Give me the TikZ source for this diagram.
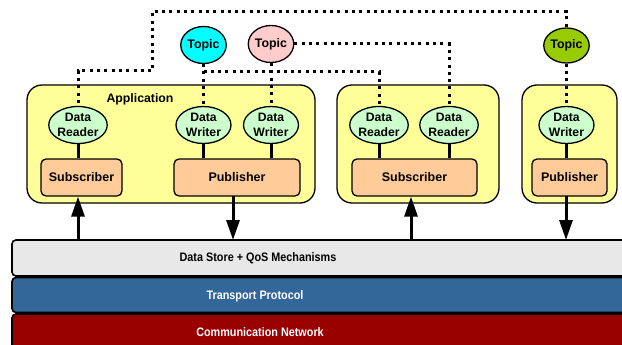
\documentclass[tikz,border=0pt]{standalone}
\usepackage{fontspec}
\setmainfont{Liberation Sans}
\newfontfamily\narrowsans[FakeStretch=0.88]{Liberation Sans}
\usetikzlibrary{shapes.geometric,arrows.meta}

\definecolor{appfill}{HTML}{FFFF99}
\definecolor{boxfill}{HTML}{FFCC99}
\definecolor{entfill}{HTML}{CCFFCC}
\definecolor{topiccyan}{HTML}{00FFFF}
\definecolor{topicpink}{HTML}{FFCCCC}
\definecolor{topicgreen}{HTML}{99CC00}
\definecolor{storefill}{HTML}{E8E8E8}
\definecolor{transfill}{HTML}{336699}
\definecolor{netfill}{HTML}{990000}

\tikzset{
  appbox/.style={draw=black, line width=1.3pt, fill=appfill, rounded corners=15pt},
  rolebox/.style={draw=black, line width=1.3pt, fill=boxfill, rounded corners=5pt,
    minimum height=37pt, inner sep=0pt, font=\fontsize{12.5}{14}\selectfont\bfseries},
  entity/.style={ellipse, draw=black, line width=1.3pt, fill=entfill,
    minimum width=55pt, minimum height=37pt, inner sep=0pt, align=center,
    font=\fontsize{12.2}{14.5}\selectfont\bfseries},
  topicnode/.style={ellipse, draw=black, line width=1.3pt,
    minimum width=44pt, minimum height=37pt, inner sep=0pt,
    font=\fontsize{12.4}{14}\selectfont\bfseries},
  layer/.style={draw=black, line width=1.6pt, rounded corners=4pt},
  layertext/.style={font=\narrowsans\fontsize{12.3}{14}\selectfont\bfseries},
  dotline/.style={line width=3pt, dash pattern=on 3pt off 4.3pt},
  link/.style={line width=3pt},
  flow/.style={line width=3pt, -{Triangle[length=20pt,width=13pt]}}
}

\begin{document}
\begin{tikzpicture}[x=1pt,y=-1pt]
\useasboundingbox (0,0) rectangle (622,345);
\clip (0,0) rectangle (622,345);

% protocol layers
\draw[layer, fill=storefill] (12,240) rectangle (640,276);
\draw[layer, fill=transfill] (12,277.5) rectangle (640,312.5);
\draw[layer, fill=netfill] (12,314) rectangle (640,360);
\coordinate (storetop) at (12,240);
\node[layertext] (store) at (258,258) {Data Store + QoS Mechanisms};
\node[layertext, text=white] (trans) at (255,296) {Transport Protocol};
\node[layertext, text=white] (net) at (260,332) {Communication Network};

% applications
\draw[appbox] (27,85) rectangle (315,203);
\draw[appbox] (337,85) rectangle (499,203);
\draw[appbox] (522,85) rectangle (617,203);
\node[font=\fontsize{12.3}{14}\selectfont\bfseries] (app) at (140,99) {Application};

% subscribers and publishers
\node[rolebox, minimum width=81pt] (S1) at (81.5,177.5) {Subscriber};
\node[rolebox, minimum width=126pt] (P1) at (237,177.5) {Publisher};
\node[rolebox, minimum width=125pt] (S2) at (414.5,177.5) {Subscriber};
\node[rolebox, minimum width=75pt] (P3) at (569.5,177.5) {Publisher};

% topics
\node[topicnode, fill=topiccyan] (T1) at (203.5,45) {Topic};
\node[topicnode, fill=topicpink, minimum width=45pt] (T2) at (271,44) {Topic};
\node[topicnode, fill=topicgreen, minimum height=35pt] (T3) at (566.5,45.5) {Topic};

% bus corners of the dotted topic links
\coordinate (busA) at (152,71);
\coordinate (busB) at (152,12);
\coordinate (busC) at (203.5,72);

% reader and writer positions (the nodes are drawn after the links)
\path (78,125) coordinate (R1pos) (203.5,125) coordinate (W1pos)
      (271,125) coordinate (W2pos) (379,125) coordinate (R2apos)
      (449,125) coordinate (R2bpos) (566.5,125) coordinate (W3pos);

% dotted topic links
\draw[dotline] (R1pos) |- (busA) -- (busB) -| (T3.north);
\draw[dotline] (T1.south) -- (W1pos);
\draw[dotline] (busC) -| (R2apos);
\draw[dotline] (T2.south) -- (W2pos);
\draw[dotline] (T2.east) -| (R2bpos);
\draw[dotline] (T3.south) -- (W3pos);

% readers and writers
\node[entity] (R1) at (R1pos) {Data\\Reader};
\node[entity] (W1) at (W1pos) {Data\\Writer};
\node[entity] (W2) at (W2pos) {Data\\Writer};
\node[entity] (R2a) at (R2apos) {Data\\Reader};
\node[entity] (R2b) at (R2bpos) {Data\\Reader};
\node[entity] (W3) at (W3pos) {Data\\Writer};

% entity to subscriber/publisher links
\draw[link] (R1.south) -- (R1.south |- S1.north);
\draw[link] (W1.south) -- (W1.south |- P1.north);
\draw[link] (W2.south) -- (W2.south |- P1.north);
\draw[link] (R2a.south) -- (R2a.south |- S2.north);
\draw[link] (R2b.south) -- (R2b.south |- S2.north);
\draw[link] (W3.south) -- (W3.south |- P3.north);

% data flow to and from the data store
\coordinate (a1) at (78,240);
\draw[flow] (a1) -- (a1 |- S1.south);
\coordinate (a2) at (233,196);
\draw[flow] (a2) -- (a2 |- storetop);
\coordinate (a3) at (411,240);
\draw[flow] (a3) -- (a3 |- S2.south);
\coordinate (a4) at (566,196);
\draw[flow] (a4) -- (a4 |- storetop);
\end{tikzpicture}
\end{document}
